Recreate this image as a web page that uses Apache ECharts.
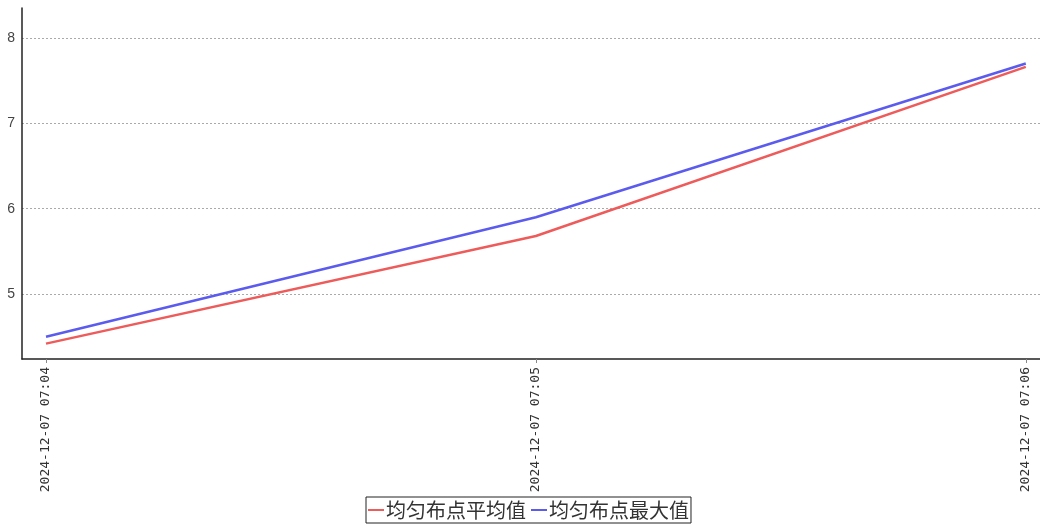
<!DOCTYPE html>
<html>
<head>
<meta charset="utf-8">
<script src="https://cdn.jsdelivr.net/npm/echarts@6/dist/echarts.min.js"></script>
<style>
html, body { margin: 0; padding: 0; background: #fff; }
#main { width: 1040px; height: 525px; }
</style>
</head>
<body>
<div id="main"></div>
<script>
// 数据
const categories = ['2024-12-07 07:04', '2024-12-07 07:05', '2024-12-07 07:06'];
const avgValues = [4.42, 5.68, 7.66];
const maxValues = [4.50, 5.90, 7.70];
const yTicks = [5, 6, 7, 8];

const myChart = echarts.init(document.getElementById('main'));

const option = {
    animation: false,
    backgroundColor: '#fff',
    color: ['#ee5b5b', '#5b5bee'],
    grid: { left: 22, right: 0, top: 8, bottom: 166 },
    legend: {
        bottom: 2,
        left: 366,
        itemGap: 5,
        itemWidth: 16,
        itemHeight: 2,
        padding: [3, 2, 3, 2],
        borderColor: '#222',
        borderWidth: 1,
        icon: 'rect',
        textStyle: { fontSize: 20, color: '#333', fontFamily: 'Noto Sans CJK SC', padding: [0, 0, 0, -3] },
        data: ['均匀布点平均值', '均匀布点最大值']
    },
    xAxis: {
        type: 'value',
        min: -0.049,
        max: 2.029,
        splitLine: { show: false },
        axisLine: { onZero: false, lineStyle: { color: '#222', width: 1.5 } },
        axisTick: { show: true, customValues: [0, 1, 2], length: 4, lineStyle: { color: '#888' } },
        axisLabel: {
            customValues: [0, 1, 2],
            rotate: 90,
            color: '#333',
            fontSize: 13,
            fontFamily: 'DejaVu Sans Mono',
            formatter: function (v) { return categories[Math.round(v)]; }
        }
    },
    yAxis: {
        type: 'value',
        min: 4.24,
        max: 8.35,
        axisLine: { show: true, onZero: false, lineStyle: { color: '#222', width: 1.5 } },
        axisTick: { show: false, customValues: yTicks },
        axisLabel: { customValues: yTicks, color: '#444', fontSize: 14, margin: 7 },
        splitLine: { show: true, customValues: yTicks, lineStyle: { color: '#aaa', type: [2, 2] } }
    },
    series: [
        {
            name: '均匀布点平均值',
            type: 'line',
            showSymbol: false,
            lineStyle: { width: 2.5 },
            data: avgValues.map(function (v, i) { return [i, v]; })
        },
        {
            name: '均匀布点最大值',
            type: 'line',
            showSymbol: false,
            lineStyle: { width: 2.5 },
            data: maxValues.map(function (v, i) { return [i, v]; })
        }
    ]
};

myChart.setOption(option);
</script>
</body>
</html>
